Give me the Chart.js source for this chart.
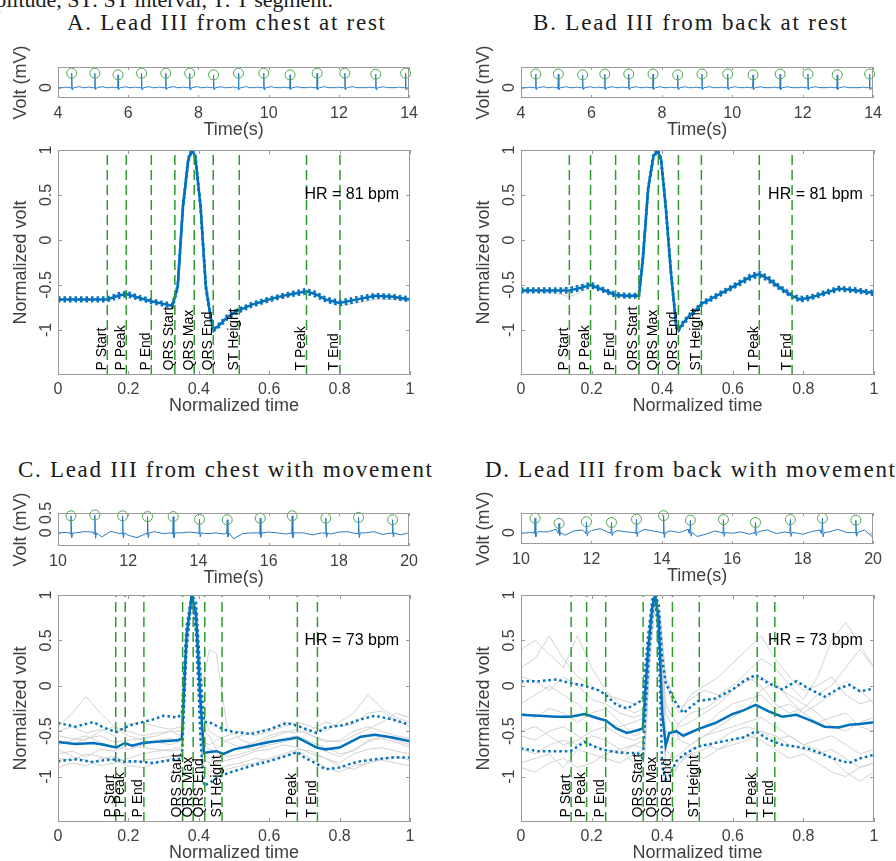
<!DOCTYPE html>
<html>
<head>
<meta charset="utf-8">
<script src="https://cdn.jsdelivr.net/npm/chart.js@4.4.1/dist/chart.umd.min.js"></script>
<style>
  body { margin: 0; background: #fff; width: 896px; height: 861px; overflow: hidden; position: relative; }
  canvas { position: absolute; }
  .ttl { position: absolute; font-family: "Liberation Serif", "DejaVu Serif", serif; color: #1a1a1a; white-space: nowrap; }
</style>
</head>
<body>
<script>
// ---------- averaged beats (normalized time / normalized volt) ----------
const tA    = [0,0.05,0.1,0.14,0.17, 0.194,0.22,0.265,0.3,0.325, 0.34,0.355,0.37,0.38,0.39, 0.405,0.42,0.435,0.442,0.46, 0.48,0.5,0.515,0.55,0.6, 0.65,0.706,0.73,0.76,0.8, 0.85,0.9,0.95,1.0];
const meanA = [-0.66,-0.66,-0.66,-0.66,-0.62, -0.60,-0.63,-0.68,-0.71,-0.73, -0.52,0.37,0.89,1.0,0.93, 0.37,-0.52,-0.89,-1.0,-0.94, -0.86,-0.81,-0.78,-0.72,-0.66, -0.61,-0.57,-0.60,-0.66,-0.70, -0.66,-0.62,-0.63,-0.66];
const stdA  = [0.02,0.02,0.02,0.02,0.025, 0.025,0.02,0.02,0.02,0.02, 0.02,0.02,0.02,0.01,0.02, 0.02,0.02,0.02,0.01,0.02, 0.02,0.02,0.02,0.02,0.02, 0.02,0.025,0.025,0.02,0.025, 0.025,0.02,0.02,0.02];
const grayA1 = [-0.67,-0.67,-0.67,-0.66,-0.60, -0.58,-0.62,-0.69,-0.72,-0.74, -0.52,0.37,0.89,1.0,0.93, 0.37,-0.52,-0.89,-1.0,-0.94, -0.86,-0.81,-0.78,-0.71,-0.65, -0.60,-0.56,-0.60,-0.68,-0.73, -0.70,-0.66,-0.66,-0.68];
const grayA2 = [-0.65,-0.65,-0.65,-0.65,-0.63, -0.61,-0.64,-0.67,-0.70,-0.72, -0.52,0.37,0.89,1.0,0.93, 0.37,-0.52,-0.89,-1.0,-0.94, -0.86,-0.80,-0.77,-0.72,-0.67, -0.62,-0.58,-0.61,-0.66,-0.70, -0.67,-0.63,-0.62,-0.65];

const tB    = [0,0.05,0.1,0.137,0.17, 0.197,0.23,0.268,0.3,0.334, 0.345,0.36,0.375,0.387,0.397, 0.41,0.425,0.44,0.446,0.46, 0.48,0.5,0.511,0.55,0.6, 0.65,0.675,0.7,0.73,0.768, 0.79,0.82,0.86,0.9,0.95, 1.0];
const meanB = [-0.56,-0.56,-0.56,-0.56,-0.53, -0.50,-0.55,-0.61,-0.62,-0.62, -0.22,0.56,0.93,1.0,0.89, 0.37,-0.37,-0.96,-1.0,-0.92, -0.83,-0.76,-0.71,-0.63,-0.52, -0.41,-0.38,-0.43,-0.52,-0.62, -0.66,-0.64,-0.59,-0.54,-0.56, -0.59];
const stdB  = [0.02,0.02,0.02,0.025,0.025, 0.025,0.02,0.02,0.02,0.02, 0.02,0.02,0.02,0.01,0.02, 0.02,0.02,0.02,0.01,0.02, 0.02,0.02,0.02,0.02,0.02, 0.025,0.025,0.025,0.02,0.02, 0.025,0.02,0.02,0.02,0.02, 0.02];
const grayB1 = [-0.58,-0.58,-0.59,-0.63,-0.58, -0.52,-0.56,-0.63,-0.64,-0.63, -0.22,0.56,0.93,1.0,0.89, 0.37,-0.37,-0.96,-1.0,-0.92, -0.83,-0.76,-0.71,-0.63,-0.52, -0.42,-0.40,-0.45,-0.54,-0.63, -0.65,-0.63,-0.58,-0.54,-0.58, -0.60];
const grayB2 = [-0.55,-0.55,-0.55,-0.53,-0.50, -0.48,-0.53,-0.60,-0.61,-0.61, -0.22,0.56,0.93,1.0,0.89, 0.37,-0.37,-0.96,-1.0,-0.92, -0.83,-0.76,-0.70,-0.62,-0.51, -0.39,-0.36,-0.41,-0.50,-0.61, -0.66,-0.65,-0.60,-0.55,-0.55, -0.58];

const tC    = [0,0.05,0.1,0.13,0.165, 0.19,0.21,0.24,0.27,0.3, 0.34,0.352,0.365,0.38,0.392, 0.405,0.415,0.43,0.45,0.47, 0.5,0.55,0.6,0.65,0.68, 0.7,0.735,0.76,0.8,0.83, 0.86,0.9,0.95,1.0];
const meanC = [-0.62,-0.64,-0.63,-0.65,-0.68, -0.63,-0.66,-0.63,-0.62,-0.61, -0.60,-0.58,0.55,1.0,0.80, -0.18,-0.74,-0.73,-0.72,-0.75, -0.70,-0.66,-0.62,-0.59,-0.57, -0.61,-0.68,-0.70,-0.68,-0.62, -0.56,-0.54,-0.57,-0.61];
const upC   = [-0.41,-0.45,-0.40,-0.46,-0.51, -0.46,-0.43,-0.40,-0.37,-0.33, -0.35,-0.30,0.65,1.0,0.92, 0.10,-0.40,-0.40,-0.44,-0.48, -0.51,-0.53,-0.48,-0.41,-0.44, -0.47,-0.52,-0.46,-0.44,-0.41, -0.37,-0.33,-0.37,-0.43];
const loC   = [-0.83,-0.81,-0.84,-0.82,-0.81, -0.84,-0.83,-0.84,-0.85,-0.83, -0.81,-0.80,0.40,0.98,0.60, -0.60,-1.10,-1.07,-1.02,-0.98, -0.94,-0.88,-0.83,-0.77,-0.73, -0.79,-0.86,-0.92,-0.90,-0.86, -0.83,-0.81,-0.79,-0.79];

const tD    = [0,0.05,0.1,0.14,0.18, 0.22,0.24,0.27,0.3,0.33, 0.345,0.36,0.372,0.38,0.39, 0.40,0.41,0.42,0.44,0.46, 0.5,0.55,0.6,0.63,0.665, 0.7,0.74,0.78,0.82,0.86, 0.9,0.93,0.96,1.0];
const meanD = [-0.32,-0.33,-0.34,-0.34,-0.31, -0.36,-0.38,-0.47,-0.52,-0.49, -0.47,0.40,0.88,1.0,0.73, -0.30,-0.66,-0.52,-0.50,-0.55, -0.48,-0.41,-0.31,-0.27,-0.21, -0.28,-0.34,-0.32,-0.38,-0.45, -0.46,-0.43,-0.42,-0.40];
const upD   = [0.05,0.05,0.07,0.03,0.00, -0.05,-0.10,-0.21,-0.25,-0.19, -0.15,0.55,0.95,1.0,0.90, 0.30,0.03,-0.05,-0.20,-0.30, -0.17,-0.14,-0.04,0.05,0.12, 0.03,-0.04,0.05,-0.04,-0.12, -0.03,0.01,-0.06,-0.03];
const loD   = [-0.69,-0.72,-0.72,-0.72,-0.62, -0.69,-0.71,-0.73,-0.74,-0.74, -0.80,0.20,0.80,0.98,0.50, -0.89,-1.03,-1.00,-0.83,-0.76, -0.67,-0.63,-0.59,-0.57,-0.50, -0.59,-0.65,-0.67,-0.70,-0.76, -0.82,-0.85,-0.80,-0.76];

// individual beats (movement recordings)
const tGray = [0,0.04,0.08,0.12,0.16, 0.2,0.24,0.28,0.32,0.35, 0.365,0.38,0.395,0.41,0.43, 0.45,0.48,0.52,0.56,0.6, 0.64,0.68,0.72,0.76,0.8, 0.84,0.88,0.92,0.96,1];
const grayC = [
  [-0.45,-0.30,-0.12,-0.30,-0.45, -0.50,-0.55,-0.52,-0.50,-0.50, 0.45,1.0,0.55,-0.60,-0.65, -0.60,-0.55,-0.50,-0.55,-0.50, -0.45,-0.40,-0.45,-0.50,-0.40, -0.30,-0.10,-0.25,-0.35,-0.40],
  [-0.75,-0.72,-0.78,-0.70,-0.72, -0.65,-0.68,-0.70,-0.72,-0.70, 0.40,0.98,0.50,-0.75,-0.80, -0.85,-0.82,-0.78,-0.72,-0.70, -0.65,-0.68,-0.75,-0.80,-0.85, -0.75,-0.70,-0.68,-0.72,-0.75],
  [-0.60,-0.65,-0.58,-0.55,-0.62, -0.60,-0.58,-0.55,-0.50,-0.55, 0.30,0.95,0.70,0.00,0.40, 0.35,-0.45,-0.60,-0.65,-0.58, -0.52,-0.48,-0.55,-0.62,-0.60, -0.50,-0.45,-0.50,-0.55,-0.58],
  [-0.90,-0.85,-0.88,-0.80,-0.78, -0.85,-0.82,-0.80,-0.78,-0.75, 0.50,1.0,0.45,-0.85,-0.95, -0.92,-0.88,-0.85,-0.80,-0.82, -0.78,-0.72,-0.80,-0.90,-0.95, -0.88,-0.85,-0.80,-0.78,-0.82],
  [-0.55,-0.58,-0.60,-0.50,-0.45, -0.55,-0.60,-0.62,-0.65,-0.60, 0.35,0.97,0.60,-0.50,-0.55, -0.70,-0.60,-0.55,-0.50,-0.48, -0.40,-0.42,-0.55,-0.60,-0.62, -0.55,-0.48,-0.40,-0.30,-0.35],
  [-0.70,-0.78,-0.82,-0.88,-0.85, -0.80,-0.75,-0.72,-0.70,-0.68, 0.45,0.99,0.40,-0.80,-0.85, -0.78,-0.72,-0.68,-0.70,-0.65, -0.62,-0.58,-0.65,-0.72,-0.78, -0.70,-0.62,-0.55,-0.60,-0.65],
  [-0.50,-0.45,-0.52,-0.48,-0.55, -0.42,-0.40,-0.45,-0.48,-0.45, 0.55,1.0,0.65,-0.30,-0.50, -0.55,-0.62,-0.68,-0.62,-0.55, -0.50,-0.52,-0.48,-0.40,-0.45, -0.42,-0.30,-0.28,-0.38,-0.45],
  [-0.80,-0.82,-0.75,-0.78,-0.82, -0.88,-0.90,-0.85,-0.80,-0.82, 0.38,0.96,0.48,-0.90,-1.00, -0.98,-0.92,-0.88,-0.85,-0.80, -0.75,-0.70,-0.72,-0.80,-0.88, -0.92,-0.85,-0.82,-0.85,-0.88],
  [-0.65,-0.60,-0.55,-0.62,-0.68, -0.70,-0.65,-0.60,-0.58,-0.62, 0.42,0.98,0.55,-0.65,-0.70, -0.72,-0.78,-0.75,-0.70,-0.62, -0.58,-0.55,-0.62,-0.68,-0.75, -0.72,-0.60,-0.58,-0.62,-0.68]
];
const grayD = [
  [0.40,0.50,0.35,0.20,0.55, 0.20,-0.05,-0.20,-0.30,-0.25, 0.50,1.0,0.70,0.05,-0.20, -0.30,-0.10,0.00,0.10,0.25, 0.40,0.55,0.30,0.10,-0.05, 0.00,0.10,-0.10,-0.20,-0.15],
  [-0.85,-0.80,-0.75,-0.90,-0.70, -0.75,-0.80,-0.85,-0.75,-0.70, 0.30,0.95,0.40,-0.85,-0.95, -0.85,-0.70,-0.65,-0.70,-0.60, -0.55,-0.60,-0.70,-0.80,-0.75, -0.85,-0.95,-1.00,-0.90,-0.85],
  [-0.20,-0.10,0.00,-0.10,-0.20, -0.35,-0.40,-0.45,-0.40,-0.35, 0.45,1.0,0.60,-0.50,-0.55, -0.40,-0.30,-0.25,-0.15,-0.05, 0.10,0.00,-0.20,-0.30,-0.25, -0.10,0.00,0.20,0.40,0.20],
  [-0.55,-0.60,-0.50,-0.45,-0.55, -0.65,-0.70,-0.75,-0.65,-0.60, 0.35,0.97,0.55,-0.70,-0.80, -0.75,-0.65,-0.55,-0.50,-0.45, -0.40,-0.35,-0.45,-0.55,-0.65, -0.60,-0.55,-0.65,-0.75,-0.70],
  [0.10,0.05,-0.05,0.10,0.00, -0.15,-0.20,-0.30,-0.35,-0.30, 0.50,1.0,0.65,-0.20,-0.35, -0.45,-0.40,-0.30,-0.20,-0.05, 0.05,0.10,0.00,-0.10,-0.20, -0.30,-0.45,-0.50,-0.40,-0.35],
  [-0.70,-0.75,-0.65,-0.60,-0.65, -0.55,-0.60,-0.70,-0.85,-0.80, 0.25,0.96,0.45,-0.95,-1.00, -0.85,-0.75,-0.70,-0.60,-0.50, -0.45,-0.50,-0.60,-0.55,-0.65, -0.70,-0.80,-0.95,-1.05,-0.95],
  [-0.30,-0.35,-0.25,-0.30,-0.40, -0.30,-0.25,-0.40,-0.55,-0.50, 0.40,0.99,0.50,-0.60,-0.65, -0.55,-0.50,-0.45,-0.30,-0.20, -0.15,-0.10,-0.25,-0.20,-0.30, -0.40,-0.35,-0.30,-0.45,-0.50],
  [-0.50,-0.45,-0.55,-0.65,-0.60, -0.50,-0.45,-0.55,-0.60,-0.55, 0.55,1.0,0.70,-0.30,-0.45, -0.60,-0.65,-0.55,-0.45,-0.35, -0.25,-0.05,0.05,-0.15,-0.30, -0.20,-0.10,0.05,-0.05,-0.20],
  [-0.90,-0.95,-0.85,-0.80,-0.90, -0.85,-0.75,-0.70,-0.65,-0.70, 0.30,0.95,0.35,-0.85,-0.90, -0.80,-0.75,-0.80,-0.70,-0.65, -0.60,-0.50,-0.55,-0.65,-0.70, -0.75,-0.70,-0.80,-0.90,-0.85],
  [0.20,0.30,0.55,0.30,0.10, 0.00,-0.10,-0.15,-0.20,-0.15, 0.60,1.0,0.75,0.10,-0.10, -0.25,-0.15,-0.05,-0.10,0.00, 0.15,0.30,0.20,0.00,-0.15, 0.10,0.50,0.70,0.45,0.20]
];

// fiducial points (normalized time)
const markNames = ['P Start','P Peak','P End','QRS Start','QRS Max','QRS End','ST Height','T Peak','T End'];
const marksA = [0.140, 0.194, 0.265, 0.332, 0.387, 0.441, 0.515, 0.706, 0.801];
const marksB = [0.137, 0.197, 0.268, 0.334, 0.389, 0.446, 0.511, 0.675, 0.768];
const marksC = [0.164, 0.191, 0.244, 0.354, 0.384, 0.417, 0.466, 0.680, 0.737];
const marksD = [0.142, 0.186, 0.240, 0.346, 0.386, 0.429, 0.505, 0.669, 0.719];
const hrLabels = ['HR = 81 bpm', 'HR = 81 bpm', 'HR = 73 bpm', 'HR = 73 bpm'];

// ---------- raw strips: R peaks (s, mV) ----------
const peakTimesA = [4.39, 5.05, 5.71, 6.38, 7.07, 7.75, 8.43, 9.14, 9.86, 10.61, 11.38, 12.17, 13.05, 13.90];
const peakVoltA  = [0.70, 0.70, 0.62, 0.70, 0.70, 0.70, 0.62, 0.70, 0.70, 0.62, 0.70, 0.70, 0.65, 0.70];
const peakTimesB = [4.42, 5.06, 5.75, 6.38, 7.06, 7.75, 8.45, 9.14, 9.87, 10.59, 11.36, 12.15, 12.98, 13.90];
const peakVoltB  = [0.66, 0.66, 0.62, 0.66, 0.66, 0.66, 0.62, 0.66, 0.66, 0.62, 0.66, 0.66, 0.62, 0.66];
const peakTimesC = [10.37, 11.05, 11.84, 12.55, 13.28, 14.03, 14.82, 15.76, 16.67, 17.63, 18.56, 19.53];
const peakVoltC  = [0.43, 0.45, 0.43, 0.41, 0.41, 0.34, 0.33, 0.37, 0.43, 0.37, 0.39, 0.33];
const peakTimesD = [10.40, 11.08, 11.86, 12.57, 13.28, 14.05, 14.81, 15.75, 16.66, 17.65, 18.56, 19.51];
const peakVoltD  = [0.44, 0.28, 0.33, 0.31, 0.41, 0.52, 0.38, 0.40, 0.31, 0.40, 0.44, 0.38];

// baseline between beats
const restBaseTimes = [4, 14];
const restBase      = [0, 0];
const moveBaseTimes = [10,10.25,10.5,10.75,11, 11.25,11.5,11.75,12,12.25, 12.5,12.75,13,13.25,13.5, 13.75,14,14.25,14.5,14.75, 15,15.25,15.5,15.75,16, 16.25,16.5,16.75,17,17.25, 17.5,17.75,18,18.25,18.5, 18.75,19,19.25,19.5,19.75, 20];
const baseC = [0.00,0.01,0.00,0.03,0.02, -0.10,0.04,-0.02,-0.06,-0.12, -0.02,0.03,-0.02,0.01,0.00, 0.02,0.00,-0.02,0.00,-0.03, -0.15,-0.02,0.00,-0.02,0.02, 0.00,-0.03,0.00,0.00,-0.05, 0.00,-0.03,0.02,0.03,-0.02, 0.00,0.03,-0.04,-0.06,-0.05, 0.00];
const baseD = [-0.02,0.00,0.03,0.02,0.10, -0.08,0.05,0.08,0.06,0.12, 0.00,0.06,0.02,0.00,0.10, 0.05,0.00,0.05,0.00,0.10, -0.12,-0.05,0.05,0.10,-0.02, 0.02,-0.05,0.03,0.08,-0.03, 0.02,0.00,-0.05,0.03,0.08, 0.02,0.10,0.00,0.04,0.08, -0.15];

// beat shape around each R peak (offset in s, fraction of R height)
const restBeatOffsets = [-0.24, -0.17, -0.11, -0.03, -0.012, 0, 0.015, 0.035, 0.07, 0.15, 0.23, 0.31];
const restBeatShape   = [0, 0.05, 0, 0, -0.05, 1, -0.14, -0.05, 0, 0.04, 0.07, 0];
const moveBeatOffsets = [-0.04, -0.015, 0, 0.02, 0.05];
const moveBeatShape   = [0, -0.08, 1, -0.3, 0];

// ---------- styling ----------
const FONT = '"Liberation Sans", Arial, Helvetica, sans-serif';
const TXT = '#404040';
const BLUE = '#0072BD';
const GREEN = '#2f9a2f';
const GRAY = '#d2d2d2';
const RING = '#4fa64f';

function pts(xs, ys) { return xs.map((x, i) => ({x: x, y: ys[i]})); }

function stripTrace(baseT, baseV, peakT, peakV, offs, shape) {
  var out = [];
  var lo = offs[0], hi = offs[offs.length - 1];
  baseT.forEach(function(t, i) {
    var inBeat = peakT.some(function(p) { return t > p + lo && t < p + hi; });
    if (!inBeat) out.push({x: t, y: baseV[i]});
  });
  peakT.forEach(function(p, i) {
    offs.forEach(function(o, j) { out.push({x: p + o, y: shape[j] * peakV[i]}); });
  });
  return out.sort(function(a, b) { return a.x - b.x; });
}

// axes box, inward ticks, rotated y labels, fiducial labels
const matPlugin = {
  id: 'mat',
  afterDraw: function(chart, args, o) {
    if (!o || !o.xTicks) return;
    var ctx = chart.ctx, a = chart.chartArea, x = chart.scales.x, y = chart.scales.y;
    ctx.save();
    if (o.marks) {
      ctx.fillStyle = '#000';
      ctx.font = '14px ' + FONT;
      ctx.textAlign = 'left';
      ctx.textBaseline = 'alphabetic';
      o.marks.forEach(function(m, i) {
        ctx.save();
        ctx.translate(x.getPixelForValue(m) - 1.5, y.getPixelForValue(o.markY));
        ctx.rotate(-Math.PI / 2);
        ctx.fillText(markNames[i], 0, 0);
        ctx.restore();
      });
    }
    if (o.hr) {
      ctx.fillStyle = '#000';
      ctx.font = '16px ' + FONT;
      ctx.textAlign = 'left';
      ctx.textBaseline = 'middle';
      ctx.fillText(o.hr, x.getPixelForValue(0.7), y.getPixelForValue(0.5));
    }
    ctx.strokeStyle = '#9a9a9a';
    ctx.lineWidth = 1;
    ctx.strokeRect(Math.round(a.left) + 0.5, Math.round(a.top) + 0.5, Math.round(a.width) - 1, Math.round(a.height) - 1);
    ctx.beginPath();
    o.xTicks.forEach(function(v) {
      var px = Math.round(x.getPixelForValue(v)) + 0.5;
      ctx.moveTo(px, a.bottom); ctx.lineTo(px, a.bottom - o.tickLen);
      ctx.moveTo(px, a.top); ctx.lineTo(px, a.top + o.tickLen);
    });
    o.yTicks.forEach(function(v) {
      var py = Math.round(y.getPixelForValue(v)) + 0.5;
      ctx.moveTo(a.left, py); ctx.lineTo(a.left + o.tickLen, py);
      ctx.moveTo(a.right, py); ctx.lineTo(a.right - o.tickLen, py);
    });
    ctx.stroke();
    ctx.fillStyle = TXT;
    ctx.font = '16px ' + FONT;
    ctx.textAlign = 'center';
    ctx.textBaseline = 'alphabetic';
    o.yTicks.forEach(function(v, i) {
      ctx.save();
      ctx.translate(a.left - 7, y.getPixelForValue(v));
      ctx.rotate(-Math.PI / 2);
      ctx.fillText(o.yLabels[i], 0, 0);
      ctx.restore();
    });
    ctx.restore();
  }
};
Chart.register(matPlugin);

function place(box, o) {
  var yw = 46, padR = 14;
  var c = document.createElement('canvas');
  var w = box.r - box.l + yw + padR, h = o.padTop + box.b - box.t + o.xH;
  c.width = w; c.height = h;
  c.style.width = w + 'px'; c.style.height = h + 'px';
  c.style.left = (box.l - yw) + 'px'; c.style.top = (box.t - o.padTop) + 'px';
  document.body.appendChild(c);
  return new Chart(c, {
    type: 'scatter',
    data: { datasets: o.datasets },
    options: {
      responsive: false, animation: false, events: [],
      layout: { padding: { left: 0, top: o.padTop, right: padR, bottom: 0 } },
      plugins: { legend: { display: false }, tooltip: { enabled: false }, mat: o.mat },
      scales: {
        x: {
          type: 'linear', min: o.xMin, max: o.xMax,
          afterFit: function(s) { s.height = o.xH; },
          afterBuildTicks: function(s) { s.ticks = o.mat.xTicks.map(function(v) { return {value: v}; }); },
          grid: { display: false, drawTicks: false }, border: { display: false },
          ticks: { autoSkip: false, maxRotation: 0, minRotation: 0, padding: o.xPad, color: TXT,
                   font: { family: FONT, size: 16 },
                   callback: function(v) { return String(Math.round(v * 10) / 10); } },
          title: { display: true, text: o.xTitle, color: TXT, font: { family: FONT, size: 18, lineHeight: 1 }, padding: 0 }
        },
        y: {
          type: 'linear', min: o.yMin, max: o.yMax,
          afterFit: function(s) { s.width = yw; },
          grid: { display: false, drawTicks: false }, border: { display: false },
          ticks: { display: false },
          title: { display: true, text: o.yTitle, color: TXT, font: { family: FONT, size: 18, lineHeight: 1 }, padding: 0 }
        }
      }
    }
  });
}

function beatSets(t, mean, up, lo, grayT, grays, marks) {
  var sets = [];
  marks.forEach(function(m) {
    sets.push({ data: [{x: m, y: -1.5}, {x: m, y: 1}], showLine: true, borderColor: GREEN,
                borderWidth: 1.5, borderDash: [10, 5], pointRadius: 0 });
  });
  sets.push({ data: pts(t, mean), showLine: true, borderColor: BLUE, borderWidth: 2.5, pointRadius: 0 });
  sets.push({ data: pts(t, up), showLine: true, borderColor: BLUE, borderWidth: 2.5, borderDash: [2.5, 3], pointRadius: 0 });
  sets.push({ data: pts(t, lo), showLine: true, borderColor: BLUE, borderWidth: 2.5, borderDash: [2.5, 3], pointRadius: 0 });
  grays.forEach(function(g) {
    sets.push({ data: pts(grayT, g), showLine: true, borderColor: GRAY, borderWidth: 1, pointRadius: 0 });
  });
  return sets;
}

function stripSets(trace, peakT, peakV) {
  return [
    { data: pts(peakT, peakV), showLine: false, pointStyle: 'circle', pointRadius: 5, pointBorderWidth: 1,
      pointBorderColor: RING, pointBackgroundColor: 'rgba(0,0,0,0)', clip: false },
    { data: trace, showLine: true, borderColor: '#2b7cc2', borderWidth: 1, pointRadius: 0 }
  ];
}

function mainBeat(box, sets, marks, hr) {
  place(box, {
    padTop: 10, xH: 40, xPad: 5, xMin: 0, xMax: 1, yMin: -1.5, yMax: 1,
    xTitle: 'Normalized time', yTitle: 'Normalized volt', datasets: sets,
    mat: { xTicks: [0, 0.2, 0.4, 0.6, 0.8, 1], yTicks: [-1, -0.5, 0, 0.5, 1],
           yLabels: ['-1', '-0.5', '0', '0.5', '1'], tickLen: 4, marks: marks, markY: -1.45, hr: hr }
  });
}

function strip(box, sets, xMin, xMax, yMin, yMax, yTicks, yLabels) {
  var xt = [];
  for (var v = xMin; v <= xMax; v += 2) xt.push(v);
  place(box, {
    padTop: 30, xH: 41, xPad: 6, xMin: xMin, xMax: xMax, yMin: yMin, yMax: yMax,
    xTitle: 'Time(s)', yTitle: 'Volt (mV)', datasets: sets,
    mat: { xTicks: xt, yTicks: yTicks, yLabels: yLabels, tickLen: 3 }
  });
}

function addTitle(text, cx, base, width, size) {
  var d = document.createElement('div');
  d.className = 'ttl';
  d.textContent = text;
  d.style.fontSize = size + 'px';
  d.style.lineHeight = size + 'px';
  document.body.appendChild(d);
  var nat = d.getBoundingClientRect().width;
  if (width) d.style.letterSpacing = ((width - nat) / (text.length - 1)) + 'px';
  var w = width || nat;
  d.style.left = (cx === null ? 333 - w : cx - w / 2) + 'px';
  d.style.top = (base - 0.8375 * size) + 'px';
}

// ---------- build ----------
addTitle('amplitude, ST: ST interval, T: T segment.', null, 7, 0, 22);
addTitle('A. Lead III from chest at rest', 226, 30, 318, 23);
addTitle('B. Lead III from back at rest', 690, 30, 314, 23);
addTitle('C. Lead III from chest with movement', 225, 477, 414, 23);
addTitle('D. Lead III from back with movement', 690, 477, 410, 23);

strip({l: 58, t: 67, r: 410, b: 98},
  stripSets(stripTrace(restBaseTimes, restBase, peakTimesA, peakVoltA, restBeatOffsets, restBeatShape), peakTimesA, peakVoltA),
  4, 14, -0.5, 1.0, [0], ['0']);
strip({l: 521, t: 67, r: 874, b: 98},
  stripSets(stripTrace(restBaseTimes, restBase, peakTimesB, peakVoltB, restBeatOffsets, restBeatShape), peakTimesB, peakVoltB),
  4, 14, -0.5, 1.0, [0], ['0']);
strip({l: 58, t: 513, r: 410, b: 546},
  stripSets(stripTrace(moveBaseTimes, baseC, peakTimesC, peakVoltC, moveBeatOffsets, moveBeatShape), peakTimesC, peakVoltC),
  10, 20, -0.33, 0.5, [0, 0.5], ['0', '0.5']);
strip({l: 521, t: 513, r: 874, b: 544},
  stripSets(stripTrace(moveBaseTimes, baseD, peakTimesD, peakVoltD, moveBeatOffsets, moveBeatShape), peakTimesD, peakVoltD),
  10, 20, -0.35, 0.6, [0], ['0']);

mainBeat({l: 58, t: 150, r: 410, b: 375},
  beatSets(tA, meanA, meanA.map(function(v, i) { return v + stdA[i]; }), meanA.map(function(v, i) { return v - stdA[i]; }), tA, [grayA1, grayA2], marksA),
  marksA, hrLabels[0]);
mainBeat({l: 521, t: 150, r: 874, b: 375},
  beatSets(tB, meanB, meanB.map(function(v, i) { return v + stdB[i]; }), meanB.map(function(v, i) { return v - stdB[i]; }), tB, [grayB1, grayB2], marksB),
  marksB, hrLabels[1]);
mainBeat({l: 58, t: 595, r: 410, b: 822},
  beatSets(tC, meanC, upC, loC, tGray, grayC, marksC), marksC, hrLabels[2]);
mainBeat({l: 521, t: 595, r: 874, b: 822},
  beatSets(tD, meanD, upD, loD, tGray, grayD, marksD), marksD, hrLabels[3]);
</script>
</body>
</html>
